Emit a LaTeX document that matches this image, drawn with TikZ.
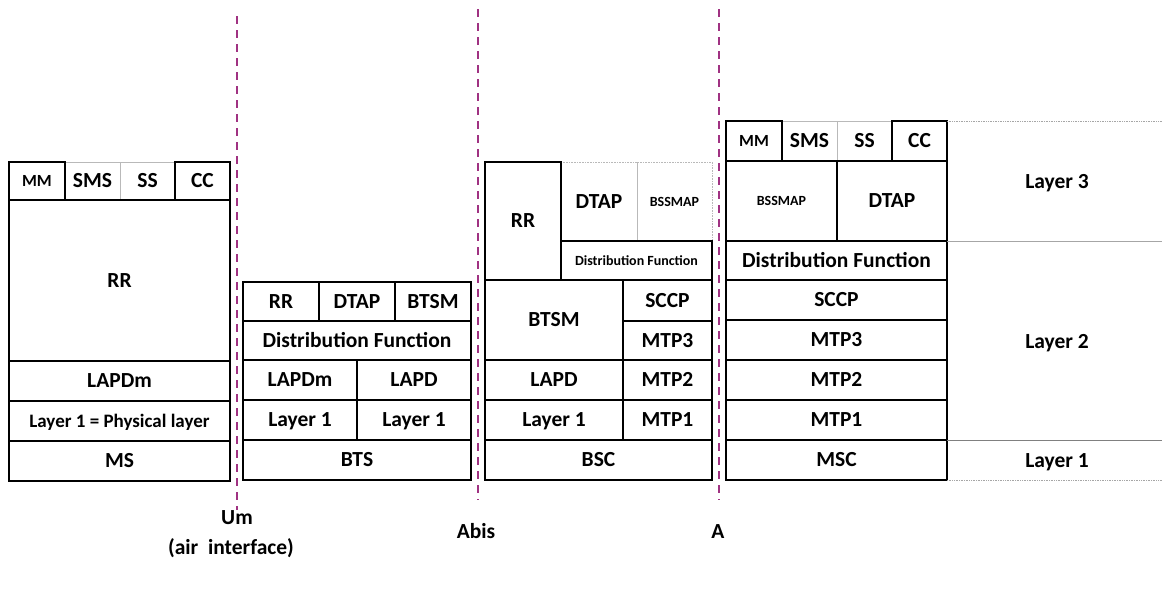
\documentclass[tikz,border=0pt]{standalone}
\usepackage{fontspec}
\setmainfont{Carlito}
\usepackage{tikz}

\definecolor{ifacepurple}{RGB}{160,50,130}

\begin{document}
\begin{tikzpicture}[
  x=1pt, y=-1pt,
  cell/.style={draw=black, line width=2.2pt, inner sep=0pt, outer sep=0pt, anchor=north west,
    text height=13.8pt, text depth=0pt, font=\bfseries\fontsize{21.5}{24}\selectfont},
  faint/.style={cell, draw=gray!55, line width=0.6pt},
  small/.style={text height=9pt, font=\bfseries\fontsize{14}{16}\selectfont},
  mid/.style={text height=11pt, font=\bfseries\fontsize{17}{19}\selectfont},
  iface/.style={draw=ifacepurple, line width=2pt, dash pattern=on 8pt off 6pt},
  lbl/.style={inner sep=0pt, text height=13.8pt, text depth=0pt, font=\bfseries\fontsize{21.5}{24}\selectfont},
  layerline/.style={draw=gray!70, line width=0.7pt}
]
  \useasboundingbox (0,0) rectangle (1162,590);

  % MS
  \node[faint, minimum width=55, minimum height=38] (msSMS) at (65,162) {SMS};
  \node[faint, minimum width=55, minimum height=38] (msSS) at (120,162) {SS};
  \node[cell, mid, minimum width=56, minimum height=38] (msMM) at (9,162) {MM};
  \node[cell, minimum width=55, minimum height=38] (msCC) at (175,162) {CC};
  \node[cell, minimum width=221, minimum height=161] (msRR) at (9,200) {RR};
  \node[cell, minimum width=221, minimum height=40] (msLAPDm) at (9,361) {LAPDm};
  \node[cell, text height=12.2pt, font=\bfseries\fontsize{19}{22}\selectfont, minimum width=221, minimum height=40] (msL1) at (9,401) {Layer 1 = Physical layer};
  \node[cell, minimum width=221, minimum height=40] (ms) at (9,441) {MS};

  % BTS
  \node[cell, minimum width=76, minimum height=39] (btsRR) at (243,282) {RR};
  \node[cell, minimum width=76, minimum height=39] (btsDTAP) at (319,282) {DTAP};
  \node[cell, minimum width=76, minimum height=39] (btsBTSM) at (395,282) {BTSM};
  \node[cell, minimum width=228, minimum height=39] (btsDF) at (243,321) {Distribution Function};
  \node[cell, minimum width=114, minimum height=40] (btsLAPDm) at (243,360) {LAPDm};
  \node[cell, minimum width=114, minimum height=40] (btsLAPD) at (357,360) {LAPD};
  \node[cell, minimum width=114, minimum height=40] (btsL1a) at (243,400) {Layer 1};
  \node[cell, minimum width=114, minimum height=40] (btsL1b) at (357,400) {Layer 1};
  \node[cell, minimum width=228, minimum height=40] (bts) at (243,440) {BTS};

  % BSC
  \node[faint, densely dotted, minimum width=76, minimum height=79] (bscDTAP) at (561,162) {DTAP};
  \node[faint, densely dotted, small, minimum width=75, minimum height=79] (bscBSSMAP) at (637,162) {BSSMAP};
  \node[cell, minimum width=76, minimum height=118] (bscRR) at (485,162) {RR};
  \node[cell, small, minimum width=151, minimum height=39] (bscDF) at (561,241) {Distribution Function};
  \node[cell, minimum width=138, minimum height=80] (bscBTSM) at (485,280) {BTSM};
  \node[cell, minimum width=89, minimum height=41] (bscSCCP) at (623,280) {SCCP};
  \node[cell, minimum width=89, minimum height=39] (bscMTP3) at (623,321) {MTP3};
  \node[cell, minimum width=138, minimum height=40] (bscLAPD) at (485,360) {LAPD};
  \node[cell, minimum width=89, minimum height=40] (bscMTP2) at (623,360) {MTP2};
  \node[cell, minimum width=138, minimum height=40] (bscL1) at (485,400) {Layer 1};
  \node[cell, minimum width=89, minimum height=40] (bscMTP1) at (623,400) {MTP1};
  \node[cell, minimum width=227, minimum height=40] (bsc) at (485,440) {BSC};

  % MSC
  \node[faint, minimum width=55, minimum height=40] (mscSMS) at (782,121) {SMS};
  \node[faint, minimum width=55, minimum height=40] (mscSS) at (837,121) {SS};
  \node[cell, mid, minimum width=56, minimum height=40] (mscMM) at (726,121) {MM};
  \node[cell, minimum width=55, minimum height=40] (mscCC) at (892,121) {CC};
  \node[cell, small, minimum width=111, minimum height=80] (mscBSSMAP) at (726,161) {BSSMAP};
  \node[cell, minimum width=110, minimum height=80] (mscDTAP) at (837,161) {DTAP};
  \node[cell, minimum width=221, minimum height=39] (mscDF) at (726,241) {Distribution Function};
  \node[cell, minimum width=221, minimum height=40] (mscSCCP) at (726,280) {SCCP};
  \node[cell, minimum width=221, minimum height=40] (mscMTP3) at (726,320) {MTP3};
  \node[cell, minimum width=221, minimum height=40] (mscMTP2) at (726,360) {MTP2};
  \node[cell, minimum width=221, minimum height=40] (mscMTP1) at (726,400) {MTP1};
  \node[cell, minimum width=221, minimum height=40] (msc) at (726,440) {MSC};

  % layer bands
  \coordinate (l3top) at (1162,121);
  \coordinate (l3bot) at (1162,241);
  \coordinate (l1top) at (1162,440);
  \coordinate (l1bot) at (1162,480);
  \draw[layerline, densely dotted] (mscCC.north east) -- (l3top);
  \draw[layerline] (mscDTAP.south east) -- (l3bot);
  \draw[layerline, draw=gray] (mscMTP1.south east) -- (l1top);
  \draw[layerline, densely dotted] (msc.south east) -- (l1bot);
  \node[lbl] (layer3) at (1057,182) {Layer 3};
  \node[lbl] (layer2) at (1057,342) {Layer 2};
  \node[lbl] (layer1) at (1057,461) {Layer 1};

  % interfaces
  \node[lbl, anchor=north] (um) at (237,510) {Um};
  \node[lbl] (air) at (231,548) {(air~ interface)};
  \node[lbl] (abis) at (476,532) {Abis};
  \node[lbl] (aif) at (718,532) {A};
  \coordinate (umtop) at (237,16);
  \coordinate (abistop) at (478,9);
  \coordinate (abisbot) at (478,500);
  \coordinate (atop) at (719,9);
  \coordinate (abot) at (719,500);
  \draw[iface] (umtop) -- (um.north);
  \draw[iface] (abistop) -- (abisbot);
  \draw[iface] (atop) -- (abot);
\end{tikzpicture}
\end{document}
